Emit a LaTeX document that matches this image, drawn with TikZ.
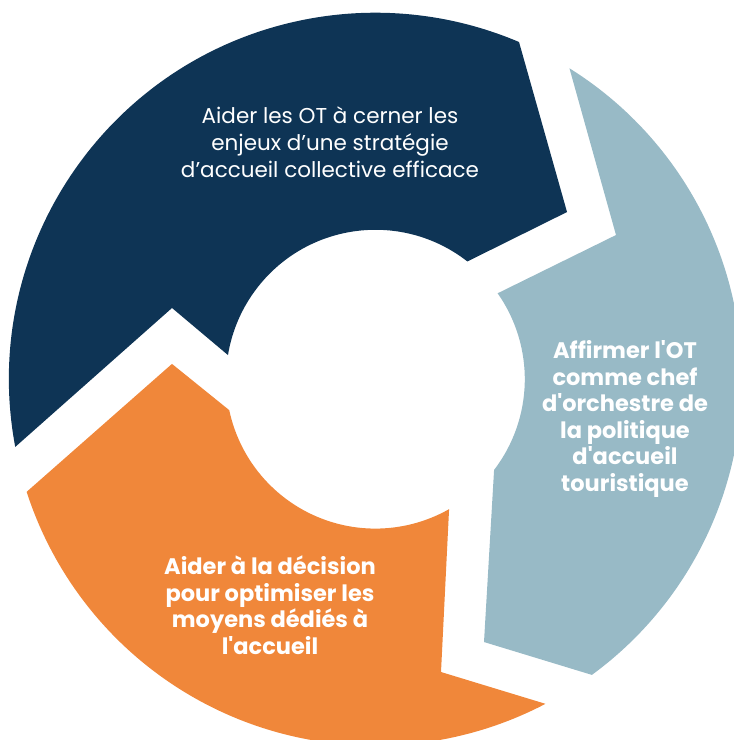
\documentclass[tikz,border=0pt]{standalone}
\usepackage{fontspec}
\setmainfont{Poppins}[Ligatures=TeXOff]
\definecolor{navyseg}{RGB}{14,52,85}
\definecolor{blueseg}{RGB}{152,186,198}
\definecolor{orangeseg}{RGB}{240,135,58}
\tikzset{
  segtext/.style={text=white, align=center, inner sep=0pt},
  regtext/.style={segtext, font=\fontsize{21.5}{27}\selectfont},
  boldtext/.style={segtext, font=\bfseries\fontsize{22.5}{26.5}\selectfont}
}
\begin{document}
\begin{tikzpicture}[x=1pt,y=1pt]
\useasboundingbox (0,0) rectangle (734,740);
\clip (0,0) rectangle (734,740);
\begin{scope}[shift={(375.4,360.8)}]
  % navy segment
  \fill[navyseg] (190.65:366.5pt) arc[start angle=190.65, end angle=66.93, radius=366.5pt]
    -- (41.1:254.3pt) -- (52.0:149.4pt)
    arc[start angle=52.0, end angle=170.7, radius=149.4pt]
    -- (160.7:215.5pt) -- cycle;
  % light blue segment
  \fill[blueseg] (58.03:366.5pt) -- (30.93:280.5pt) -- (35.1:149.4pt)
    arc[start angle=35.1, end angle=-37.4, radius=149.4pt]
    -- (-67.55:284.4pt) -- (-53.79:366.5pt)
    arc[start angle=-53.79, end angle=58.03, radius=366.5pt] -- cycle;
  % orange segment
  \fill[orangeseg] (-60.45:149.4pt) -- (-77.37:300.1pt) -- (-62.35:366.5pt)
    arc[start angle=-62.35, end angle=-162.1, radius=366.5pt]
    -- (175.7:204pt) -- (-168.04:149.4pt)
    arc[start angle=-168.04, end angle=-60.45, radius=149.4pt] -- cycle;
\end{scope}
\node[regtext] (t1) at (330,598) {Aider les OT à cerner les\\enjeux d’une stratégie\\d’accueil collective efficace};
\node[boldtext] (t2) at (625,321) {Affirmer l'OT\\comme chef\\d'orchestre de\\la politique\\d'accueil\\touristique};
\node[boldtext] (t3) at (270,135) {Aider à la décision\\pour optimiser les\\moyens dédiés à\\l'accueil};
\end{tikzpicture}
\end{document}
